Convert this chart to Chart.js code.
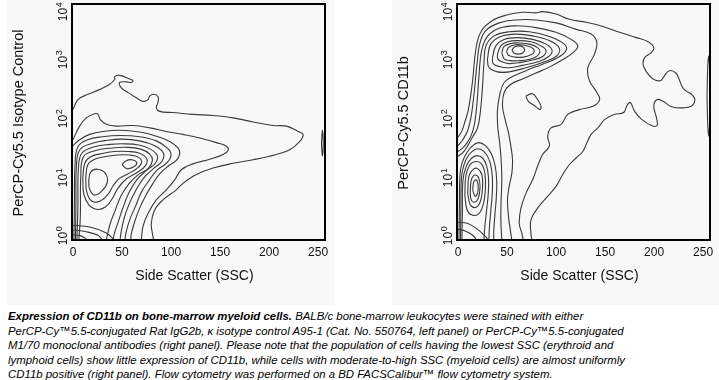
<!DOCTYPE html>
<html><head><meta charset="utf-8">
<script src="https://cdn.jsdelivr.net/npm/chart.js@4/dist/chart.umd.min.js"></script>
<style>
html,body{margin:0;padding:0;background:#fff;width:719px;height:380px;overflow:hidden;position:relative;font-family:"Liberation Sans",Arial,sans-serif}
.bg{position:absolute;top:0;height:305px;background:#f8f8f8}
canvas{position:absolute;top:0}
#cap{position:absolute;left:8px;top:309px;font:italic 11.4px "Liberation Sans",Arial,sans-serif;line-height:14.5px;white-space:nowrap;color:#000}
</style></head><body>
<div class="bg" style="left:7px;width:328px"></div>
<div class="bg" style="left:392px;width:327px"></div>
<canvas id="c1" width="340" height="290" style="left:0"></canvas>
<canvas id="c2" width="334" height="290" style="left:385px"></canvas>
<div id="cap"><b>Expression of CD11b on bone-marrow myeloid cells.</b> BALB/c bone-marrow leukocytes were stained with either<br>PerCP-Cy™5.5-conjugated Rat IgG2b, κ isotype control A95-1 (Cat. No. 550764, left panel) or PerCP-Cy™5.5-conjugated<br>M1/70 monoclonal antibodies (right panel). Please note that the population of cells having the lowest SSC (erythroid and<br>lymphoid cells) show little expression of CD11b, while cells with moderate-to-high SSC (myeloid cells) are almost uniformly<br>CD11b positive (right panel). Flow cytometry was performed on a BD FACSCalibur™ flow cytometry system.</div>
<script>
// Axis ticks
const X_TICKS = [0, 50, 100, 150, 200, 250];
const Y_DECADES = [0, 1, 2, 3, 4]; // labelled 10^0 .. 10^4
const X_TITLE = "Side Scatter (SSC)";
const Y_TITLE_LEFT = "PerCP-Cy5.5 Isotype Control";
const Y_TITLE_RIGHT = "PerCP-Cy5.5 CD11b";

// Contours, left panel (isotype control): [SSC, log10 fluorescence]
const isoC1 = [[0,2.21],[5.1,2.38],[15.3,2.47],[27.2,2.55],[37.4,2.64],[42.5,2.72],[42.5,2.77],[47.6,2.79],[57.8,2.73],[61.2,2.70],[59.5,2.67],[54.4,2.68],[47.6,2.67],[49.3,2.58],[56.1,2.50],[64.6,2.41],[71.4,2.35],[76.5,2.38],[78.2,2.44],[82.3,2.47],[86.7,2.43],[86.7,2.33],[85.0,2.24],[88.4,2.18],[102,2.16],[122.4,2.13],[142.9,2.11],[163.3,2.07],[183.7,2.00],[204.1,1.94],[217.7,1.93],[229.6,1.84],[234.7,1.79],[231.3,1.67],[221.1,1.53],[207.5,1.45],[183.7,1.36],[163.3,1.30],[142.9,1.22],[125.9,1.11],[112.2,0.96],[105.4,0.85],[91.8,0.68],[83.3,0.51],[79.9,0.28],[81.0,0.11],[82.3,0]];
const isoC2 = [[0,1.70],[6.8,1.93],[13.6,2.07],[22.1,2.14],[25.5,2.13],[27.9,2.04],[34.0,1.96],[44.2,1.93],[61.2,1.94],[78.2,1.90],[95.2,1.84],[112.2,1.79],[129.3,1.73],[146.3,1.65],[156.5,1.59],[158.2,1.52],[153.1,1.45],[139.5,1.37],[122.4,1.29],[110.5,1.19],[103.7,1.02],[95.2,0.85],[85.0,0.68],[76.5,0.45],[71.4,0.23],[69.7,0]];
const isoC3 = [[0,1.6],[6.8,1.70],[17.0,1.79],[30.6,1.84],[47.6,1.86],[68.0,1.83],[85.0,1.76],[98.6,1.67],[107.1,1.56],[108.8,1.46],[105.4,1.35],[96.9,1.25],[88.4,1.12],[81.6,0.96],[74.8,0.77],[68.0,0.54],[62.9,0.31],[59.5,0.11],[58.8,0]];
const isoC4 = [[1,0],[1.5,0.6],[2,1.25],[5,1.58],[15,1.7],[30,1.75],[48,1.77],[68,1.75],[85,1.68],[96,1.56],[100,1.45],[96,1.31],[86,1.19],[78,1.02],[70,0.82],[64,0.58],[58,0.35],[54,0.12],[53,0]];
const isoC5 = [[2.5,0],[3,0.6],[3.5,1.25],[7,1.53],[20,1.64],[35,1.69],[50,1.71],[68,1.68],[83,1.6],[92,1.48],[91,1.34],[82,1.21],[72,1.05],[64,0.84],[57,0.60],[52,0.36],[49,0.12],[48,0]];
const isoC6 = [[4,0],[5,0.55],[5.5,1.2],[9,1.47],[22,1.58],[38,1.62],[52,1.63],[67,1.61],[79,1.54],[86,1.43],[84,1.30],[75,1.18],[65,1.02],[57,0.80],[51,0.55],[46,0.30],[42,0.10],[41,0]];
const isoC7 = [[6,0],[7.5,0.4],[8,1.1],[11,1.42],[24,1.52],[40,1.56],[55,1.57],[69,1.54],[78,1.46],[81,1.35],[77,1.22],[66,1.10],[57,0.95],[49,0.75],[43,0.50],[38,0.28],[35,0.08],[34,0]];
const isoC8 = [[10,1.05],[12,1.3],[18,1.41],[28,1.46],[42,1.5],[56,1.5],[68,1.47],[75,1.38],[74,1.26],[65,1.14],[54,1.03],[46,0.88],[40,0.70],[33,0.56],[24,0.52],[16,0.6],[11,0.78]];
const isoC9 = [[13,1.05],[15,1.27],[21,1.36],[32,1.41],[45,1.44],[58,1.44],[67,1.40],[70,1.31],[65,1.21],[56,1.12],[47,1.04],[41,0.92],[36,0.78],[28,0.66],[19,0.66],[14,0.82]];
const isoP1 = [[50,1.28],[54,1.34],[60,1.36],[65,1.31],[62,1.24],[55,1.21]];
const isoP2 = [[16,1.0],[18,1.15],[25,1.2],[33,1.13],[35,0.98],[30,0.84],[22,0.76],[17,0.86]];
const isoO1 = [[0,0.25],[17,0.22],[34,0.12],[42,0]];
const isoO2 = [[0,0.17],[13.6,0.14],[25.5,0.08],[30,0]];
const isoO3 = [[0,0.09],[8,0.07],[15,0]];
const isoEdge = [[253.4,1.64],[254.3,1.86],[255.2,1.64],[254.3,1.42]];

// Contours, right panel (CD11b)
const cdR1 = [[0,1.74],[4,1.85],[7,2.0],[10.6,2.21],[14.7,2.67],[18.8,3.29],[24.2,3.55],[35.2,3.72],[48.8,3.81],[65.9,3.86],[79.5,3.85],[86.3,3.87],[100,3.83],[113.7,3.74],[130.7,3.69],[147.8,3.62],[164.8,3.52],[181.9,3.43],[193.9,3.36],[199.7,3.26],[197.3,3.18],[190.4,3.09],[188.7,2.98],[192.2,2.85],[199,2.73],[206.5,2.70],[209.9,2.77],[215.4,2.87],[222.2,2.83],[225.6,2.72],[228,2.62],[231.4,2.54],[238.2,2.47],[241.6,2.38],[238.2,2.27],[229.7,2.24],[217.7,2.26],[209.2,2.35],[203.1,2.38],[199.7,2.27],[202.4,2.07],[203.1,1.94],[197.3,1.94],[187,2.05],[180.2,2.18],[175.8,2.33],[172.4,2.28],[168.9,2.16],[159.7,2.13],[149.5,2.04],[142.7,1.90],[135.8,1.79],[130.7,1.62],[127.3,1.50],[120.5,1.39],[113.7,1.28],[106.8,1.11],[100,0.91],[89.8,0.71],[81.2,0.54],[74.4,0.34],[74.4,0.11],[75.4,0]];
const cdR2 = [[0,1.6],[5,1.7],[10,1.86],[13.5,2.1],[16.5,2.5],[19.5,3.0],[22.5,3.35],[28.3,3.55],[42,3.68],[59,3.73],[79.5,3.73],[100,3.68],[120.5,3.57],[135.8,3.49],[141.6,3.35],[139.2,3.15],[132.4,2.92],[134.1,2.70],[141.6,2.50],[144.4,2.38],[138.2,2.27],[123.9,2.21],[111.9,2.13],[105.1,1.96],[94.9,1.90],[91.5,1.76],[93.2,1.59],[86.3,1.45],[81.2,1.25],[76.1,1.02],[69.3,0.79],[64.2,0.54],[62.5,0.28],[65.2,0.11],[66.6,0]];
const cdR3 = [[0,1.5],[6,1.58],[12,1.72],[16,1.9],[19,2.25],[21.5,2.8],[24,3.2],[30,3.45],[42,3.59],[59,3.63],[79.5,3.60],[100,3.52],[115.4,3.40],[122.2,3.29],[117.7,3.18],[106.1,3.05],[93.2,2.93],[79.5,2.83],[65.9,2.73],[53.9,2.64],[47.1,2.50],[45.4,2.27],[48.1,2.04],[51.5,1.82],[53.9,1.59],[55.6,1.36],[54.9,1.13],[52.2,0.91],[50.5,0.68],[51.5,0.40],[53.9,0.11],[54.9,0]];
const cdR4 = [[0,1.42],[5,1.48],[10,1.6],[15,1.75],[20,1.9],[23,2.2],[25,2.6],[26.5,3.0],[28.5,3.29],[36.9,3.46],[52.2,3.53],[72.7,3.53],[93.2,3.45],[108.5,3.32],[110.2,3.21],[101.7,3.09],[86.3,2.98],[69.3,2.87],[55.6,2.77],[47.1,2.67],[42.7,2.47],[40.3,2.21],[40.5,1.93],[42.5,1.65],[44,1.36],[44.7,1.02],[44,0.68],[43.7,0.34],[44.7,0]];
const cdHole = [[69.3,2.44],[76.1,2.48],[81.2,2.38],[84.6,2.27],[83.6,2.21],[77.8,2.28],[71.7,2.35]];
const cdU2 = [[30.0,3.06],[33.4,3.32],[43.7,3.45],[59.0,3.49],[76.1,3.46],[93.2,3.38],[103.4,3.25],[100.0,3.11],[86.3,3.01],[69.3,2.92],[52.2,2.85],[40.3,2.85],[31.7,2.92]];
const cdU3 = [[35.2,3.09],[38.6,3.29],[47.1,3.40],[60.8,3.43],[76.1,3.40],[89.8,3.32],[95.9,3.22],[92.5,3.11],[81.2,3.02],[65.9,2.96],[52.2,2.92],[42.0,2.94],[35.8,2.99]];
const cdU4 = [[40.3,3.15],[43.7,3.29],[50.5,3.36],[60.8,3.38],[74.4,3.36],[84.6,3.29],[89.8,3.21],[86.3,3.11],[76.1,3.05],[64.2,3.01],[52.2,2.99],[44.7,3.02],[40.6,3.07]];
const cdU5 = [[44.7,3.18],[47.1,3.28],[53.9,3.33],[62.5,3.34],[72.7,3.32],[81.2,3.26],[83.6,3.19],[80.2,3.11],[72.0,3.06],[62.5,3.04],[52.9,3.04],[47.1,3.07]];
const cdU6 = [[49.5,3.20],[52.2,3.27],[59.0,3.31],[67.6,3.30],[75.4,3.26],[77.8,3.19],[74.4,3.14],[66.6,3.10],[58.4,3.10],[51.5,3.13]];
const cdU7 = [[55,3.22],[57.5,3.27],[61.8,3.29],[66,3.27],[68,3.22],[66,3.17],[61.8,3.15],[57,3.17]];
const cdL1 = [[1,0],[1.5,0.6],[2,1.1],[4,1.3],[9,1.48],[15,1.6],[21,1.65],[28,1.6],[34,1.46],[38,1.25],[39.5,1.0],[39,0.7],[37.5,0.4],[36.5,0.15],[36.5,0]];
const cdL2 = [[2.5,0],[3,0.6],[3.5,1.05],[6,1.27],[11,1.44],[17,1.53],[23,1.54],[29,1.45],[33,1.3],[35,1.08],[35,0.8],[33.5,0.5],[32,0.2],[31.5,0]];
const cdL3 = [[4,0],[4.5,0.5],[5,1.0],[8,1.23],[13,1.37],[19,1.43],[25,1.39],[29,1.27],[31,1.08],[31,0.82],[29.5,0.55],[27.5,0.25],[26.5,0]];
const cdL4 = [[7,0.75],[8,1.08],[12,1.27],[18,1.33],[24,1.29],[27.5,1.12],[28,0.88],[26,0.62],[21.5,0.45],[15,0.42],[9.5,0.5]];
const cdL5 = [[10,0.78],[11,1.07],[15,1.19],[20,1.21],[24.5,1.1],[25,0.88],[22.5,0.64],[17.5,0.55],[12.5,0.6]];
const cdL6 = [[12.5,0.8],[13.5,1.01],[17,1.1],[21,1.06],[22.5,0.9],[20.5,0.7],[16.5,0.64],[13.5,0.68]];
const cdL7 = [[15,0.85],[16,0.98],[18.5,1.02],[20.5,0.94],[20,0.8],[17.5,0.74]];
const cdO1 = [[0,0.3],[10,0.28],[20,0.18],[28,0.06],[31,0]];
const cdO2 = [[0,0.18],[8,0.15],[15,0.08],[19,0]];
const cdEdge = [[254,2.45],[254.6,2.9],[255.6,3.12],[256.6,2.9],[257,2.45],[256.6,2.0],[255.6,1.76],[254.6,2.0]];

const LINE = '#3a3a3a';
const FONT = '"Liberation Sans", Arial, sans-serif';

function ds(points, closed){
  const pts = points.map(p => ({x: p[0], y: p[1]}));
  if (closed) pts.push({x: points[0][0], y: points[0][1]});
  return {data: pts, showLine: true, borderColor: LINE, borderWidth: 1.1,
          pointRadius: 0, pointHoverRadius: 0, tension: 0.4, fill: false, clip: 0};
}

const deco = {
  id: 'deco',
  afterDatasetsDraw(chart, args, opts){
    const ctx = chart.ctx, a = chart.chartArea, xs = chart.scales.x, ys = chart.scales.y;
    ctx.save();
    ctx.strokeStyle = '#000'; ctx.lineWidth = 2;
    ctx.strokeRect(a.left, a.top, a.right - a.left, a.bottom - a.top);
    ctx.fillStyle = '#111';
    ctx.font = '12px ' + FONT;
    ctx.textAlign = 'center'; ctx.textBaseline = 'middle';
    X_TICKS.forEach(v => ctx.fillText(String(v), xs.getPixelForValue(v), a.bottom + 13));
    Y_DECADES.forEach(d => {
      let py = ys.getPixelForValue(d) - 3;
      py = Math.max(a.top + 8, Math.min(a.bottom - 4, py));
      ctx.save();
      ctx.translate(a.left - 10, py);
      ctx.rotate(-Math.PI / 2);
      ctx.textAlign = 'left'; ctx.textBaseline = 'alphabetic';
      ctx.font = '12px ' + FONT;
      const w10 = ctx.measureText('10').width;
      ctx.font = '9px ' + FONT;
      const ws = ctx.measureText(String(d)).width;
      const s = -(w10 + ws) / 2;
      ctx.font = '12px ' + FONT;
      ctx.fillText('10', s, 4.5);
      ctx.font = '9px ' + FONT;
      ctx.fillText(String(d), s + w10 + 0.5, -0.5);
      ctx.restore();
    });
    ctx.font = '14px ' + FONT;
    ctx.textAlign = 'center'; ctx.textBaseline = 'middle';
    ctx.fillText(X_TITLE, (a.left + a.right) / 2 - 4, a.bottom + 36);
    ctx.save();
    ctx.translate(a.left - 53, (a.top + a.bottom) / 2 + 1);
    ctx.rotate(-Math.PI / 2);
    ctx.font = '14.5px ' + FONT;
    ctx.fillText(opts.yTitle, 0, 0);
    ctx.restore();
    ctx.restore();
  }
};

function makeChart(id, openLines, closedLines, yTitle, padRight){
  const datasets = openLines.map(p => ds(p, false)).concat(closedLines.map(p => ds(p, true)));
  return new Chart(document.getElementById(id), {
    type: 'scatter',
    data: {datasets},
    options: {
      responsive: false, animation: false, devicePixelRatio: 1,
      layout: {padding: {left: 72, right: padRight, top: 4, bottom: 50}},
      scales: {
        x: {type: 'linear', min: -1, max: 257, display: false},
        y: {type: 'linear', min: 0, max: 4, display: false}
      },
      plugins: {legend: {display: false}, tooltip: {enabled: false}, deco: {yTitle}}
    },
    plugins: [deco]
  });
}

makeChart('c1',
  [isoC1, isoC2, isoC3, isoC4, isoC5, isoC6, isoC7, isoO1, isoO2, isoO3],
  [isoC8, isoC9, isoP1, isoP2, isoEdge],
  Y_TITLE_LEFT, 15);
makeChart('c2',
  [cdR1, cdR2, cdR3, cdR4, cdL1, cdL2, cdL3, cdO1, cdO2],
  [cdHole, cdU2, cdU3, cdU4, cdU5, cdU6, cdU7, cdL4, cdL5, cdL6, cdL7, cdEdge],
  Y_TITLE_RIGHT, 9);
</script>
</body></html>
